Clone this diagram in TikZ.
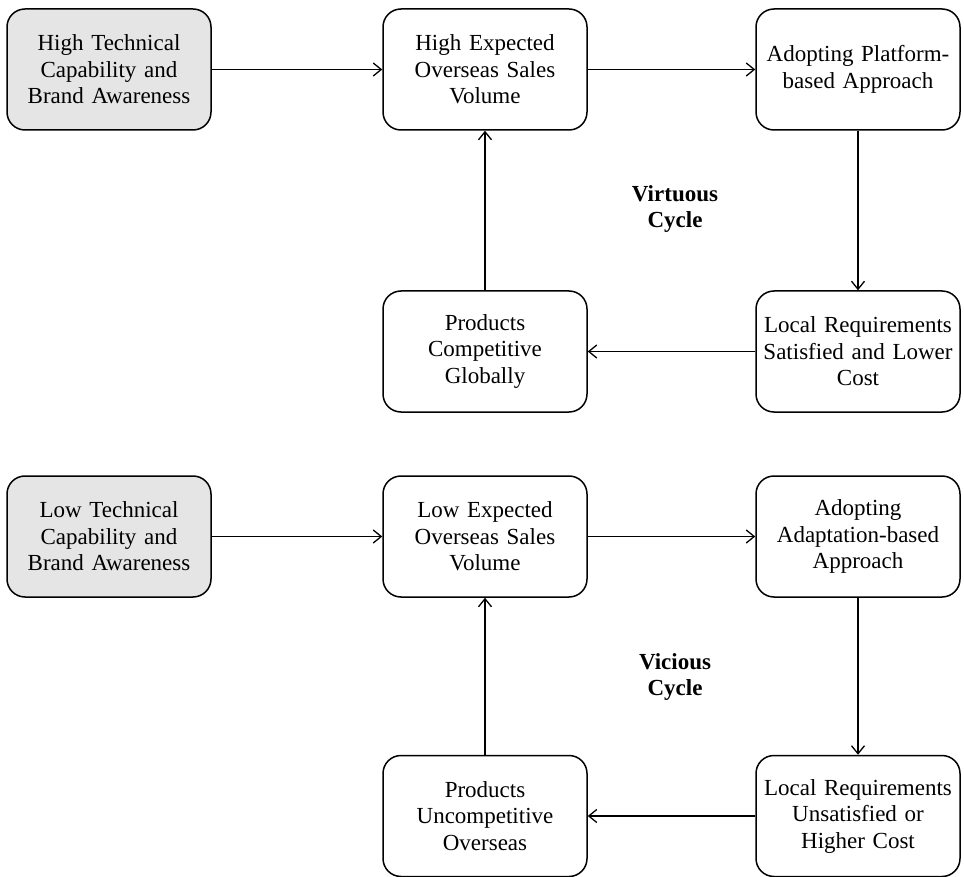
\documentclass[tikz,border=0pt]{standalone}
\usepackage{xcolor}
\usepackage{fontspec}
\setmainfont{Liberation Serif}
\usepackage{tikz}
\usetikzlibrary{arrows.meta}

\begin{document}
\begin{tikzpicture}[x=1pt,y=-1pt,font=\fontsize{23}{26.5}\selectfont]
    \tikzstyle{stage} = [rectangle, draw, line width=1.5pt, text width=202pt, align=center, rounded corners=18pt, minimum width=204pt, minimum height=121pt, inner sep=1pt]
    \tikzstyle{origin} = [stage, fill=gray!20]
    \tikzstyle{cyclename} = [align=center, font=\fontsize{23}{26.5}\selectfont\bfseries]
    \tikzstyle{flow} = [-{Straight Barb[length=8pt,width=13pt]}, line width=1.3pt]
    \useasboundingbox (0,0) rectangle (964,877);

    % virtuous cycle
    \node [origin] (HiCap) at (109,69.5) {High Technical\\Capability and\\Brand Awareness};
    \node [stage] (HiSales) at (485,69.5) {High Expected\\Overseas Sales\\Volume};
    \node [stage] (Platform) at (858,69.5) {Adopting Platform-\\based Approach};
    \node [stage] (Satisfied) at (858,351.5) {Local Requirements\\Satisfied and Lower\\Cost};
    \node [stage] (Competitive) at (485,351.5) {Products\\Competitive\\Globally};
    \node [cyclename] (Virtuous) at (675,209) {Virtuous\\Cycle};
    \draw [flow] (HiCap) -- (HiSales);
    \draw [flow] (HiSales) -- (Platform);
    \draw [flow] (Platform) -- (Satisfied);
    \draw [flow] (Satisfied) -- (Competitive);
    \draw [flow] (Competitive) -- (HiSales);

    % vicious cycle
    \node [origin] (LoCap) at (109,536.5) {Low Technical\\Capability and\\Brand Awareness};
    \node [stage] (LoSales) at (485,536.5) {Low Expected\\Overseas Sales\\Volume};
    \node [stage] (Adaptation) at (858,536.5) {Adopting\\Adaptation-based\\Approach};
    \node [stage] (Unsatisfied) at (858,816) {Local Requirements\\Unsatisfied or\\Higher Cost};
    \node [stage] (Uncompetitive) at (485,816) {Products\\Uncompetitive\\Overseas};
    \node [cyclename] (Vicious) at (675,677) {Vicious\\Cycle};
    \draw [flow] (LoCap) -- (LoSales);
    \draw [flow] (LoSales) -- (Adaptation);
    \draw [flow] (Adaptation) -- (Unsatisfied);
    \draw [flow] (Unsatisfied) -- (Uncompetitive);
    \draw [flow] (Uncompetitive) -- (LoSales);
\end{tikzpicture}
\end{document}
